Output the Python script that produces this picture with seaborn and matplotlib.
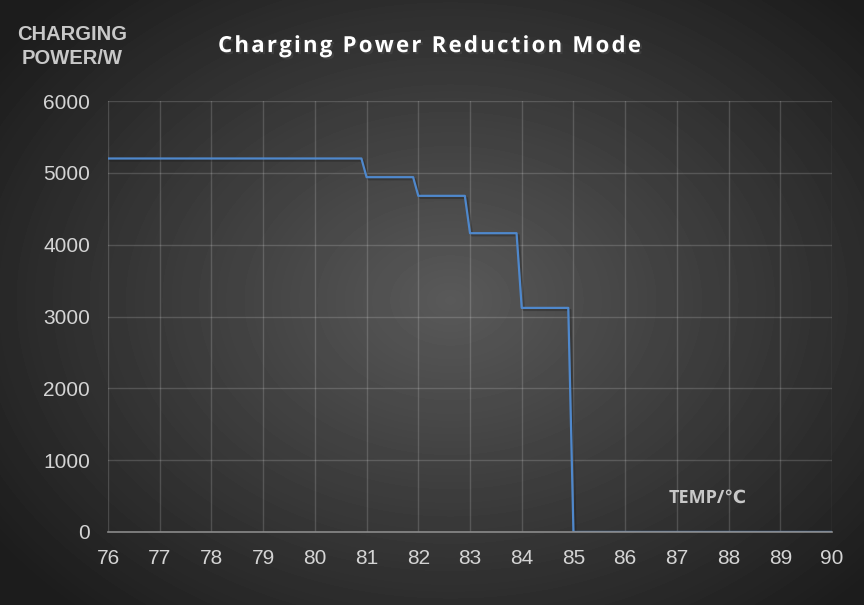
import numpy as np
import pandas as pd
import matplotlib
matplotlib.use("Agg")
import matplotlib.pyplot as plt
import matplotlib.patheffects as pe
import seaborn as sns

# data
temps = [76, 80.9, 81, 81.9, 82, 82.9, 83, 83.9, 84, 84.9, 85, 90]
power = [5200, 5200, 4940, 4940, 4680, 4680, 4160, 4160, 3120, 3120, 0, 0]
x_ticks = list(range(76, 91))
y_ticks = [0, 1000, 2000, 3000, 4000, 5000, 6000]

df = pd.DataFrame({"temp": temps, "power": power})

sns.set_theme(style="dark")
plt.rcParams["font.family"] = ["Liberation Sans", "DejaVu Sans"]

fig = plt.figure(figsize=(8.64, 6.05), dpi=100)

# radial gradient background
bg = fig.add_axes([0, 0, 1, 1], zorder=-10)
yy, xx = np.mgrid[0:605, 0:864]
r = np.sqrt(((xx - 450) / 560.0) ** 2 + ((yy - 300) / 420.0) ** 2)
shade = np.clip(0.35 - 0.24 * r, 0.11, 0.35)
bg.imshow(shade, cmap="gray", vmin=0, vmax=1, aspect="auto", interpolation="bilinear")
bg.axis("off")

ax = fig.add_axes([0.125, 0.1207, 0.838, 0.7123])
ax.set_facecolor("none")

sns.lineplot(data=df, x="temp", y="power", ax=ax, color="#4f88cc", linewidth=1.6,
             path_effects=[pe.SimpleLineShadow(offset=(1.5, -1.5), alpha=0.35), pe.Normal()])

ax.set_xlim(76, 90)
ax.set_ylim(0, 6000)
ax.set_xticks(x_ticks)
ax.set_yticks(y_ticks)
ax.grid(True, color="white", alpha=0.16, linewidth=1)
for s in ["top", "right", "left"]:
    ax.spines[s].set_visible(False)
ax.spines["bottom"].set_color("#8a8a8a")
ax.spines["bottom"].set_linewidth(1.2)
ax.tick_params(colors="#d4d4d4", labelsize=15, length=0)
ax.tick_params(axis="y", pad=13)
ax.tick_params(axis="x", pad=12)
ax.set_xlabel("")
ax.set_ylabel("")

# letter-spaced title
title = "Charging Power Reduction Mode"
spaced = "\u200a".join(title)
fig.text(0.498, 0.923, spaced, ha="center", va="center",
         fontsize=16, fontweight="bold", color="white", family=["Open Sans", "DejaVu Sans"],
         path_effects=[pe.withSimplePatchShadow(offset=(1.5, -1.5), alpha=0.5)])
fig.text(0.084, 0.923, "CHARGING\nPOWER/W", ha="center", va="center", fontsize=14.5,
         fontweight="bold", color="#c8c8c8", linespacing=1.3)
ax.text(87.6, 480, "TEMP/\u2103", ha="center", va="center", fontsize=13,
        fontweight="bold", color="#c8c8c8", family=["Open Sans", "DejaVu Sans"])

fig.savefig("out.png", dpi=100)
